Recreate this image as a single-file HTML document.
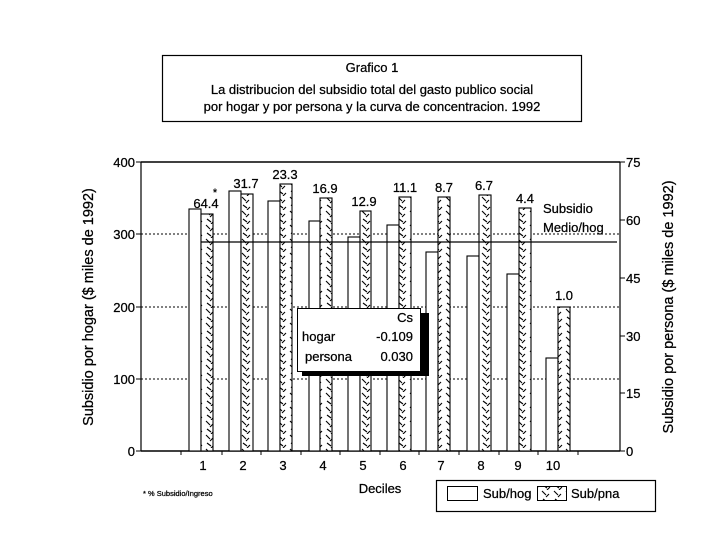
<!DOCTYPE html>
<html><head><meta charset="utf-8"><style>
html,body{margin:0;padding:0;background:#fff;}
svg{display:block;font-family:"Liberation Sans",Arial,sans-serif;}
text{stroke:#000;stroke-width:0.25;}
</style></head><body>
<svg width="726" height="546" viewBox="0 0 726 546" xmlns="http://www.w3.org/2000/svg">
<defs>
<pattern id="h" width="12" height="14" patternUnits="userSpaceOnUse">
<rect width="12" height="14" fill="#fff"/>
<path d="M2 1 L6 5 M9 4 L6 7 M3 9 L7 12 M10 11 L7 14" stroke="#000" stroke-width="1.1" fill="none"/>
</pattern>
</defs>
<rect x="162.5" y="55.5" width="419" height="66" fill="#fff" stroke="#000" stroke-width="1.2"/>
<g font-size="13" text-anchor="middle" fill="#000">
<text x="372" y="72">Grafico 1</text>
<text x="372" y="94">La distribucion del subsidio total del gasto publico social</text>
<text x="372" y="111">por hogar y por persona y la curva de concentracion. 1992</text>
</g>
<line x1="141" y1="162" x2="620" y2="162" stroke="#000" stroke-width="1.5"/>
<line x1="141" y1="162" x2="141" y2="451" stroke="#000" stroke-width="1.2"/>
<line x1="620" y1="162" x2="620" y2="451" stroke="#000" stroke-width="1.2"/>
<line x1="141" y1="451" x2="620" y2="451" stroke="#000" stroke-width="1.5"/>
<g stroke="#000" stroke-width="1" stroke-dasharray="2,2">
<line x1="141" y1="234" x2="620" y2="234"/>
<line x1="141" y1="307" x2="620" y2="307"/>
<line x1="141" y1="379" x2="620" y2="379"/>
</g>
<g stroke="#000" stroke-width="1">
<line x1="136" y1="162" x2="141" y2="162"/><line x1="136" y1="234" x2="141" y2="234"/>
<line x1="136" y1="307" x2="141" y2="307"/><line x1="136" y1="379" x2="141" y2="379"/>
<line x1="136" y1="451" x2="141" y2="451"/>
<line x1="620" y1="162" x2="625" y2="162"/><line x1="620" y1="220" x2="625" y2="220"/>
<line x1="620" y1="278" x2="625" y2="278"/><line x1="620" y1="336" x2="625" y2="336"/>
<line x1="620" y1="393" x2="625" y2="393"/><line x1="620" y1="451" x2="625" y2="451"/>
<line x1="181" y1="451" x2="181" y2="455"/><line x1="222" y1="451" x2="222" y2="455"/>
<line x1="261" y1="451" x2="261" y2="455"/><line x1="301" y1="451" x2="301" y2="455"/>
<line x1="340" y1="451" x2="340" y2="455"/><line x1="380" y1="451" x2="380" y2="455"/>
<line x1="419" y1="451" x2="419" y2="455"/><line x1="459" y1="451" x2="459" y2="455"/>
<line x1="499" y1="451" x2="499" y2="455"/><line x1="538" y1="451" x2="538" y2="455"/>
<line x1="578" y1="451" x2="578" y2="455"/>
</g>
<g font-size="13" text-anchor="end">
<text x="135" y="167">400</text><text x="135" y="239">300</text><text x="135" y="312">200</text>
<text x="135" y="384">100</text><text x="135" y="456">0</text>
</g>
<g font-size="13">
<text x="626" y="167">75</text><text x="626" y="225">60</text><text x="626" y="283">45</text>
<text x="626" y="341">30</text><text x="626" y="398">15</text><text x="626" y="456">0</text>
</g>
<g stroke="#000" stroke-width="1.1">
<rect x="189" y="209" width="12" height="242" fill="#fff"/><rect x="201" y="214" width="12" height="237" fill="url(#h)"/>
<rect x="229" y="191" width="12" height="260" fill="#fff"/><rect x="241" y="194" width="12" height="257" fill="url(#h)"/>
<rect x="268" y="201" width="12" height="250" fill="#fff"/><rect x="280" y="184" width="12" height="267" fill="url(#h)"/>
<rect x="309" y="221" width="11" height="230" fill="#fff"/><rect x="320" y="198" width="12" height="253" fill="url(#h)"/>
<rect x="348" y="237" width="12" height="214" fill="#fff"/><rect x="360" y="211" width="11" height="240" fill="url(#h)"/>
<rect x="387" y="225" width="12" height="226" fill="#fff"/><rect x="399" y="197" width="12" height="254" fill="url(#h)"/>
<rect x="426" y="252" width="12" height="199" fill="#fff"/><rect x="438" y="197" width="12" height="254" fill="url(#h)"/>
<rect x="467" y="256" width="12" height="195" fill="#fff"/><rect x="479" y="195" width="12" height="256" fill="url(#h)"/>
<rect x="507" y="274" width="12" height="177" fill="#fff"/><rect x="519" y="208" width="12" height="243" fill="url(#h)"/>
<rect x="546" y="358" width="12" height="93" fill="#fff"/><rect x="558" y="307" width="12" height="144" fill="url(#h)"/>
</g>
<line x1="201" y1="242" x2="617" y2="242" stroke="#000" stroke-width="1.2"/>
<g font-size="13" text-anchor="middle">
<text x="206" y="208">64.4</text><text x="215" y="196" font-size="11">*</text>
<text x="246" y="188">31.7</text><text x="285" y="179">23.3</text>
<text x="325" y="193">16.9</text><text x="364" y="206">12.9</text>
<text x="405" y="192">11.1</text><text x="444" y="192">8.7</text>
<text x="484" y="190">6.7</text><text x="525" y="203">4.4</text>
<text x="564" y="300">1.0</text>
</g>
<text x="543" y="213" font-size="13">Subsidio</text>
<text x="543" y="232" font-size="13">Medio/hog</text>
<rect x="302" y="313" width="127" height="63" fill="#000"/>
<rect x="297.5" y="308.5" width="123" height="63" fill="#fff" stroke="#000" stroke-width="1"/>
<g font-size="13">
<text x="413" y="322" text-anchor="end">Cs</text>
<text x="302" y="341">hogar</text><text x="413" y="341" text-anchor="end">-0.109</text>
<text x="305" y="361">persona</text><text x="413" y="361" text-anchor="end">0.030</text>
</g>
<g font-size="13" text-anchor="middle">
<text x="203" y="470">1</text><text x="243" y="470">2</text><text x="283" y="470">3</text>
<text x="323" y="470">4</text><text x="363" y="470">5</text><text x="403" y="470">6</text>
<text x="441" y="470">7</text><text x="481" y="470">8</text><text x="518" y="470">9</text>
<text x="553" y="470">10</text>
<text x="380" y="493">Deciles</text>
</g>
<text x="143" y="496" font-size="7.5">* % Subsidio/Ingreso</text>
<rect x="436.5" y="480.5" width="219" height="31" fill="#fff" stroke="#000" stroke-width="1.2"/>
<rect x="447.5" y="486.5" width="30" height="14" fill="#fff" stroke="#000"/>
<text x="483" y="498" font-size="13">Sub/hog</text>
<rect x="537.5" y="486.5" width="29" height="14" fill="url(#h)" stroke="#000"/>
<text x="571" y="498" font-size="13">Sub/pna</text>
<text transform="translate(93,307) rotate(-90)" font-size="14.5" text-anchor="middle">Subsidio por hogar ($ miles de 1992)</text>
<text transform="translate(673,307) rotate(-90)" font-size="14.5" text-anchor="middle">Subsidio por persona ($ miles de 1992)</text>
</svg>
</body></html>
